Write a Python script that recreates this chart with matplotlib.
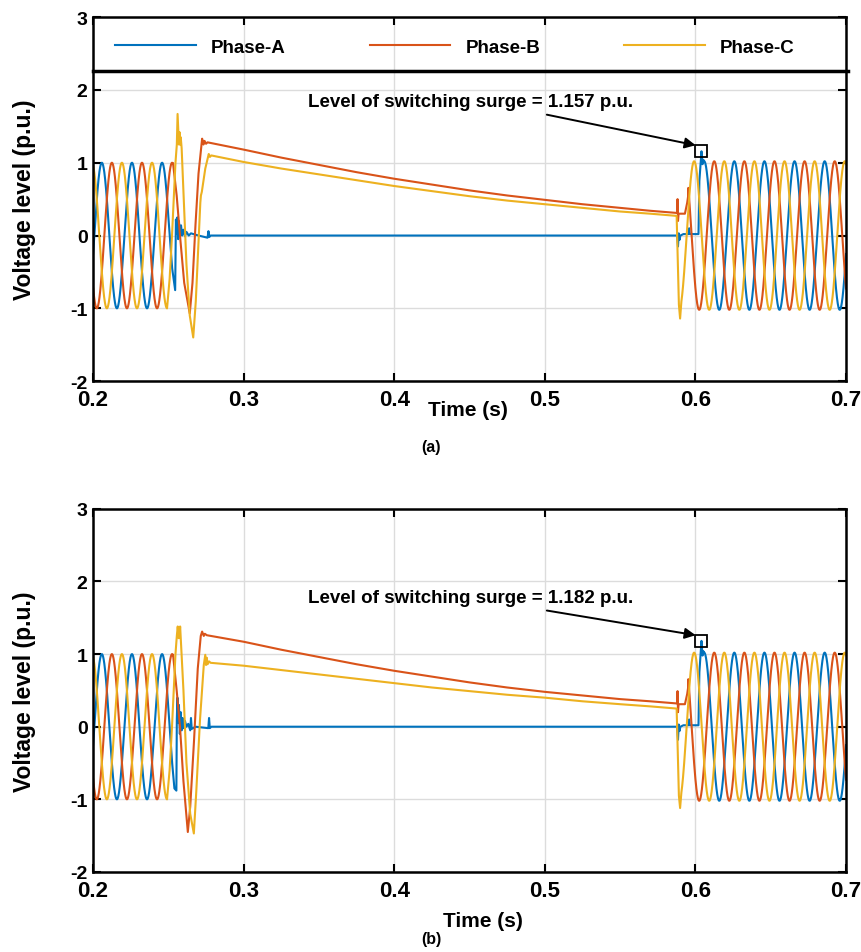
import numpy as np
import matplotlib
matplotlib.use("Agg")
import matplotlib.pyplot as plt

plt.rcParams["font.family"] = ["Liberation Sans", "DejaVu Sans"]
plt.rcParams["font.weight"] = "bold"
plt.rcParams["axes.unicode_minus"] = False

# steady-state part of the waveforms
FREQ_HZ = 50.0
PEAK_TIME_A = 0.2058            # a crest of phase A (s)
PHASE_LAG = [0.0, 1 / 3, 2 / 3]  # lag of A, B, C as a fraction of one period
AMP_BEFORE = 1.0
AMP_AFTER = 1.02

# panel (a): transient part, knots (time s / voltage p.u.)
a_t_A = [0.2500, 0.2525, 0.2545, 0.2550, 0.2555, 0.2560, 0.2565, 0.2570, 0.2577,
         0.2584, 0.2591, 0.2600, 0.2610, 0.2620, 0.2635, 0.2650, 0.2700, 0.2760,
         0.2766, 0.2772, 0.2780, 0.5878, 0.5884, 0.5889, 0.5894, 0.5900, 0.5920,
         0.5955, 0.5958, 0.5962, 0.6020, 0.6026, 0.6040, 0.6047, 0.6052, 0.6060]
a_v_A = [0.25, -0.45, -0.75, 0.22, 0.02, 0.25, -0.05, 0.20, 0.0,
         0.14, 0.0, 0.08, -0.01, 0.05, 0.0, 0.03, 0.0, -0.03,
         0.06, -0.02, 0.0, 0.0, -0.15, 0.03, -0.06, 0.0, 0.02,
         0.02, 0.10, 0.02, 0.02, 0.75, 1.157, 0.98, 1.04, 1.02]

a_t_B = [0.2531, 0.2555, 0.2577, 0.2605, 0.2642, 0.2660, 0.2680, 0.2700, 0.2724,
         0.2733, 0.2740, 0.2750, 0.2760, 0.3000, 0.3250, 0.3500, 0.3750, 0.4000,
         0.4250, 0.4500, 0.4750, 0.5000, 0.5250, 0.5500, 0.5700, 0.5878, 0.5881,
         0.5884, 0.5888, 0.5930, 0.5945, 0.5952]
a_v_B = [0.99, 0.55, 0.0, -0.65, -1.07, -0.65, 0.15, 0.85, 1.33,
         1.25, 1.30, 1.26, 1.28, 1.18, 1.07, 0.97, 0.87, 0.78,
         0.70, 0.62, 0.55, 0.49, 0.43, 0.38, 0.34, 0.31, 0.50,
         0.20, 0.30, 0.30, 0.45, 0.55]

a_t_C = [0.2491, 0.2508, 0.2524, 0.2547, 0.2556, 0.2561, 0.2566, 0.2570, 0.2574,
         0.2578, 0.2582, 0.2588, 0.2600, 0.2620, 0.2642, 0.2665, 0.2682, 0.2700,
         0.2712, 0.2716, 0.2722, 0.2745, 0.2768, 0.2776, 0.2785, 0.3000, 0.3250,
         0.3500, 0.3750, 0.4000, 0.4250, 0.4500, 0.4750, 0.5000, 0.5250, 0.5500,
         0.5700, 0.5875, 0.5882, 0.5890, 0.5898, 0.5905]
a_v_C = [-1.00, -0.60, 0.00, 1.00, 1.25, 1.67, 1.45, 1.25, 1.42,
         1.25, 1.35, 1.20, 0.60, -0.40, -1.10, -1.40, -0.90, -0.10,
         0.45, 0.55, 0.60, 0.92, 1.12, 1.08, 1.10, 1.01, 0.92,
         0.84, 0.76, 0.68, 0.61, 0.54, 0.48, 0.43, 0.38, 0.33,
         0.30, 0.27, -0.30, -0.95, -1.14, -0.93]

# panel (b)
b_t_A = [0.2500, 0.2525, 0.2540, 0.2553, 0.2556, 0.2560, 0.2565, 0.2570, 0.2576,
         0.2582, 0.2588, 0.2595, 0.2602, 0.2610, 0.2620, 0.2632, 0.2645, 0.2650,
         0.2655, 0.2680, 0.2765, 0.2770, 0.2775, 0.2785, 0.5878, 0.5884, 0.5889,
         0.5894, 0.5900, 0.5920, 0.5955, 0.5958, 0.5962, 0.6020, 0.6026, 0.6040,
         0.6047, 0.6052, 0.6060]
b_v_A = [0.25, -0.50, -0.85, -0.88, 0.10, 0.40, 0.05, 0.30, -0.10,
         0.20, -0.05, 0.12, -0.02, 0.08, 0.0, 0.04, -0.05, 0.12,
         -0.03, 0.0, -0.02, 0.12, -0.02, 0.0, 0.0, -0.18, 0.03,
         -0.06, 0.0, 0.02, 0.02, 0.10, 0.02, 0.02, 0.75, 1.182,
         0.98, 1.04, 1.02]

b_t_B = [0.2531, 0.2555, 0.2577, 0.2600, 0.2629, 0.2645, 0.2670, 0.2695, 0.2715,
         0.2724, 0.2735, 0.2742, 0.2755, 0.3000, 0.3250, 0.3500, 0.3750, 0.4000,
         0.4250, 0.4500, 0.4750, 0.5000, 0.5250, 0.5500, 0.5700, 0.5878, 0.5881,
         0.5884, 0.5888, 0.5930, 0.5945, 0.5952]
b_v_B = [0.99, 0.50, 0.0, -0.75, -1.45, -1.10, -0.20, 0.80, 1.25,
         1.31, 1.25, 1.28, 1.26, 1.17, 1.06, 0.96, 0.86, 0.77,
         0.69, 0.61, 0.54, 0.48, 0.43, 0.38, 0.35, 0.32, 0.49,
         0.20, 0.31, 0.31, 0.45, 0.55]

b_t_C = [0.2491, 0.2508, 0.2524, 0.2547, 0.2556, 0.2562, 0.2568, 0.2573, 0.2578,
         0.2585, 0.2600, 0.2620, 0.2645, 0.2669, 0.2685, 0.2710, 0.2735, 0.2745,
         0.2750, 0.2755, 0.2760, 0.2770, 0.2780, 0.3000, 0.3250, 0.3500, 0.3750,
         0.4000, 0.4250, 0.4500, 0.4750, 0.5000, 0.5250, 0.5500, 0.5700, 0.5875,
         0.5882, 0.5890, 0.5898, 0.5905]
b_v_C = [-1.00, -0.60, 0.00, 1.00, 1.25, 1.38, 1.22, 1.22, 1.38,
         1.10, 0.50, -0.50, -1.20, -1.47, -0.90, 0.10, 0.85, 0.99,
         0.85, 0.95, 0.86, 0.90, 0.88, 0.84, 0.78, 0.72, 0.66,
         0.60, 0.54, 0.49, 0.44, 0.40, 0.35, 0.31, 0.28, 0.25,
         -0.30, -0.95, -1.12, -0.93]

PHASE_NAMES = ["Phase-A", "Phase-B", "Phase-C"]
PHASE_COLORS = ["#0072BD", "#D95319", "#EDB120"]
SURGE_LEVELS = [1.157, 1.182]
SURGE_TIME = 0.6040
X_TICKS = [0.2, 0.3, 0.4, 0.5, 0.6, 0.7]
Y_TICKS = [-2, -1, 0, 1, 2, 3]


def phase_wave(knot_t, knot_v, lag):
    """
    Sinusoid before and after the transient, knots in between.
    """
    period = 1.0 / FREQ_HZ
    t0 = PEAK_TIME_A + lag * period
    t_pre = np.arange(0.2, knot_t[0], 5e-5)
    t_post = np.arange(knot_t[-1] + 5e-5, 0.7 + 5e-5, 5e-5)
    v_pre = AMP_BEFORE * np.cos(2 * np.pi * FREQ_HZ * (t_pre - t0))
    v_post = AMP_AFTER * np.cos(2 * np.pi * FREQ_HZ * (t_post - t0))
    t = np.concatenate([t_pre, knot_t, t_post])
    v = np.concatenate([v_pre, knot_v, v_post])
    return t, v


def style_axes(ax):
    ax.set_xlim(0.2, 0.7)
    ax.set_ylim(-2, 3)
    ax.set_xticks(X_TICKS)
    ax.set_xticklabels([f"{x:.1f}" for x in X_TICKS], fontsize=16)
    ax.set_yticks(Y_TICKS)
    ax.set_yticklabels([str(y) for y in Y_TICKS], fontsize=14)
    ax.grid(True, color="#dcdcdc", lw=1.0)
    ax.set_axisbelow(True)
    ax.tick_params(direction="in", top=True, right=True, length=6, width=1.5)
    ax.tick_params(axis="x", pad=6)
    ax.tick_params(axis="y", pad=4)
    for sp in ax.spines.values():
        sp.set_linewidth(1.8)
    ax.set_ylabel("Voltage level (p.u.)", fontsize=16.5, fontweight="bold")
    ax.yaxis.set_label_coords(-0.076, 0.5)


fig = plt.figure(figsize=(8.62, 9.53), dpi=100)
ax_a = fig.add_axes([0.108, 0.599, 0.8735, 0.382])
ax_b = fig.add_axes([0.108, 0.084, 0.8735, 0.381])

panels = [
    (ax_a, [(a_t_A, a_v_A), (a_t_B, a_v_B), (a_t_C, a_v_C)]),
    (ax_b, [(b_t_A, b_v_A), (b_t_B, b_v_B), (b_t_C, b_v_C)]),
]

for ax, knots in panels:
    style_axes(ax)
    for (kt, kv), lag, color, name in zip(knots, PHASE_LAG, PHASE_COLORS, PHASE_NAMES):
        t, v = phase_wave(kt, kv, lag)
        ax.plot(t, v, color=color, lw=1.5, label=name)

# annotations
text_y = [1.84, 1.78]
tail_y = [1.66, 1.60]
head_y = [1.24, 1.26]
for ax, level, ty, tl, hd in zip([ax_a, ax_b], SURGE_LEVELS, text_y, tail_y, head_y):
    ax.plot([SURGE_TIME], [level], marker="s", ms=8, mfc="none",
            mec="black", mew=1.3, zorder=5)
    ax.text(0.343, ty, f"Level of switching surge = {level:.3f} p.u.",
            fontsize=13.5, fontweight="bold", va="center", ha="left")
    ax.annotate("", xy=(0.6001, hd), xytext=(0.5013, tl),
                arrowprops=dict(arrowstyle="-|>", color="black", lw=1.4,
                                mutation_scale=16, shrinkA=0, shrinkB=0))

# legend strip on top of panel (a)
ax_a.axhline(2.26, xmin=0, xmax=1.003, color="black", lw=2.5, clip_on=False, zorder=6)
ax_a.legend(loc="center left", bbox_to_anchor=(0.029, 0.918), ncol=3,
            frameon=False, fontsize=13.5, handlelength=4.3, handletextpad=0.8,
            columnspacing=4.5, borderpad=0, borderaxespad=0)

ax_a.text(0.449, -0.077, "Time (s)", transform=ax_a.get_xaxis_transform(),
          fontsize=15, fontweight="bold", ha="center", va="center")
ax_b.text(0.459, -0.135, "Time (s)", transform=ax_b.get_xaxis_transform(),
          fontsize=15, fontweight="bold", ha="center", va="center")

fig.text(0.5, 1 - 448 / 953, "(a)", fontsize=11.5, fontweight="bold", ha="center", va="center")
fig.text(0.5, 1 - 940 / 953, "(b)", fontsize=11.5, fontweight="bold", ha="center", va="center")

fig.savefig("out.png", dpi=100)
